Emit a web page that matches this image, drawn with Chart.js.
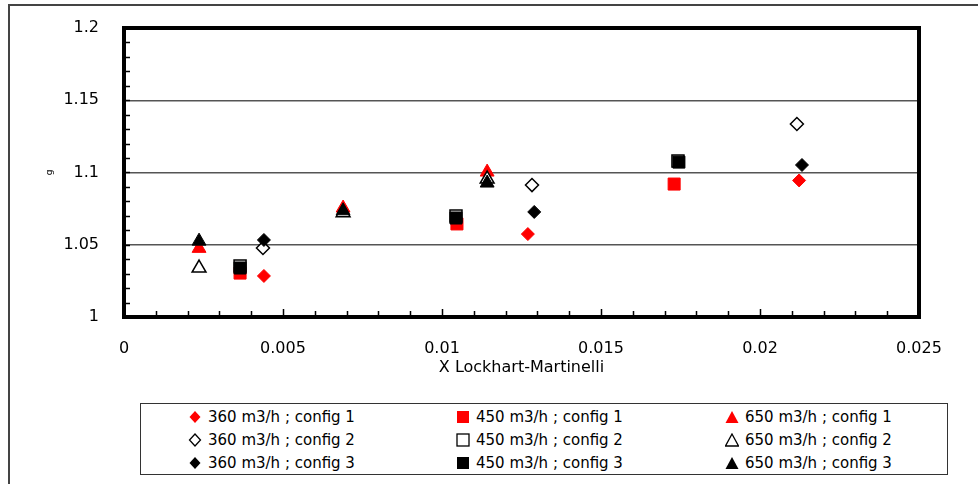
<!DOCTYPE html>
<html>
<head>
<meta charset="utf-8">
<script src="https://cdn.jsdelivr.net/npm/chart.js@4.4.0/dist/chart.umd.min.js"></script>
<style>
  body { margin: 0; background: #fff; font-family: "DejaVu Sans", sans-serif; overflow: hidden; }
  #wrap { position: relative; width: 978px; height: 484px; overflow: hidden; }
  #frame { position: absolute; left: 8px; top: 4px; width: 2000px; height: 2000px; border: 2px solid #444; box-sizing: border-box; }
  #c { position: absolute; left: 0; top: 0; }
  #legend { position: absolute; left: 140px; top: 403px; width: 808px; height: 72px; border: 1.5px solid #333; box-sizing: border-box; background: #fff; }
  .item { position: absolute; height: 20px; line-height: 20px; font-size: 15px; color: #000; white-space: nowrap; }
  .item svg { position: absolute; left: -20px; top: 3px; }
</style>
</head>
<body>
<div id="wrap">
  <div id="frame"></div>
  <canvas id="c" width="978" height="484"></canvas>
  <div id="legend"></div>
</div>
<script>
// x = Lockhart-Martinelli parameter, y = g
const x360 = [0.0044, 0.0127, 0.02123];
const g360c1 = [1.0284, 1.0574, 1.0945];
const x360c2 = [0.00437, 0.01283, 0.02116];
const g360c2 = [1.0478, 1.0913, 1.1336];
const x360c3 = [0.0044, 0.0129, 0.02132];
const g360c3 = [1.0533, 1.0727, 1.1052];

const x450 = [0.00365, 0.01047, 0.0173];
const g450c1 = [1.0304, 1.0644, 1.092];
const x450c2 = [0.00365, 0.01044, 0.01742];
const g450c2 = [1.0353, 1.0699, 1.108];
const x450c3 = [0.00365, 0.01044, 0.01745];
const g450c3 = [1.0339, 1.0685, 1.1072];

const x650 = [0.00236, 0.00689, 0.01142];
const g650c1 = [1.0475, 1.0754, 1.1003];
const g650c2 = [1.0339, 1.0722, 1.0955];
const g650c3 = [1.0525, 1.0735, 1.0927];

const xTicks = [0, 0.005, 0.01, 0.015, 0.02, 0.025];
const yTicks = [1, 1.05, 1.1, 1.15, 1.2];

const toPts = (xs, ys) => xs.map((x, i) => ({x: x, y: ys[i]}));

const series = [
  {label: "360 m3/h ; config 1", data: toPts(x360, g360c1), shape: "rectRot", fill: "#ff0000", line: "#ff0000", cfg: 1},
  {label: "450 m3/h ; config 1", data: toPts(x450, g450c1), shape: "rect", fill: "#ff0000", line: "#ff0000", cfg: 1},
  {label: "650 m3/h ; config 1", data: toPts(x650, g650c1), shape: "triangle", fill: "#ff0000", line: "#ff0000", cfg: 1},
  {label: "360 m3/h ; config 2", data: toPts(x360c2, g360c2), shape: "rectRot", fill: "#ffffff", line: "#000000", cfg: 2},
  {label: "450 m3/h ; config 2", data: toPts(x450c2, g450c2), shape: "rect", fill: "#ffffff", line: "#000000", cfg: 2},
  {label: "650 m3/h ; config 2", data: toPts(x650, g650c2), shape: "triangle", fill: "#ffffff", line: "#000000", cfg: 2},
  {label: "360 m3/h ; config 3", data: toPts(x360c3, g360c3), shape: "rectRot", fill: "#000000", line: "#000000", cfg: 3},
  {label: "450 m3/h ; config 3", data: toPts(x450c3, g450c3), shape: "rect", fill: "#000000", line: "#000000", cfg: 3},
  {label: "650 m3/h ; config 3", data: toPts(x650, g650c3), shape: "triangle", fill: "#000000", line: "#000000", cfg: 3}
];

const radius = {rectRot: 6.5, rect: 8.5, triangle: 8};

const near = (v, list) => list.some(t => Math.abs(t - v) < 1e-9);

// frame of the plot area + inward tick marks
const framePlugin = {
  id: "framePlugin",
  afterDraw(chart) {
    const ctx = chart.ctx;
    const a = chart.chartArea;
    const xs = chart.scales.x, ys = chart.scales.y;
    ctx.save();
    ctx.strokeStyle = "#000";
    ctx.lineWidth = 1.5;
    ctx.beginPath();
    xs.ticks.forEach(t => {
      const px = Math.round(xs.getPixelForValue(t.value)) + 0.5;
      const len = near(t.value, xTicks) ? 8 : 6;
      ctx.moveTo(px, a.bottom);
      ctx.lineTo(px, a.bottom - len);
    });
    ys.ticks.forEach(t => {
      const py = Math.round(ys.getPixelForValue(t.value)) + 0.5;
      ctx.moveTo(a.left, py);
      ctx.lineTo(a.left + 6, py);
    });
    ctx.stroke();
    ctx.lineWidth = 4;
    ctx.strokeRect(a.left, a.top, a.right - a.left, a.bottom - a.top);
    ctx.restore();
  }
};

Chart.defaults.font.family = "DejaVu Sans";
Chart.defaults.color = "#000";

new Chart(document.getElementById("c"), {
  type: "scatter",
  data: {
    datasets: series.map(s => ({
      label: s.label,
      data: s.data,
      pointStyle: s.shape,
      pointRadius: radius[s.shape],
      pointHoverRadius: radius[s.shape],
      backgroundColor: s.fill,
      borderColor: s.line,
      pointBorderWidth: s.cfg === 2 ? 1.5 : 1,
      order: 3 - s.cfg
    }))
  },
  options: {
    responsive: false,
    animation: false,
    layout: {padding: {left: 0, top: 28, right: 59, bottom: 107}},
    plugins: {legend: {display: false}, tooltip: {enabled: false}},
    scales: {
      x: {
        type: "linear",
        min: 0,
        max: 0.025,
        afterFit: s => { s.height = 60; s.paddingLeft = 0; s.paddingRight = 0; },
        border: {display: false},
        grid: {display: false, drawTicks: false},
        ticks: {
          stepSize: 0.001,
          autoSkip: false,
          maxRotation: 0,
          padding: 22,
          font: {size: 16},
          callback: v => near(v, xTicks) ? String(+v.toFixed(3)) : ""
        },
        title: {display: true, text: "X Lockhart-Martinelli", font: {size: 16}, padding: {top: 0, bottom: 0}}
      },
      y: {
        type: "linear",
        min: 1,
        max: 1.2,
        afterFit: s => { s.width = 124; s.paddingTop = 0; s.paddingBottom = 0; },
        border: {display: false},
        grid: {
          drawTicks: false,
          lineWidth: 1.5,
          color: c => (near(c.tick.value, yTicks) && c.tick.value > 1 && c.tick.value < 1.2) ? "#555" : "rgba(0,0,0,0)"
        },
        ticks: {
          stepSize: 0.01,
          autoSkip: false,
          padding: 25,
          font: {size: 16},
          callback: v => near(v, yTicks) ? String(+v.toFixed(2)) : ""
        },
        title: {display: true, text: "g", font: {size: 9}, padding: {top: 44, bottom: 0}}
      }
    }
  },
  plugins: [framePlugin]
});

// legend: 3 columns x 3 rows
const colX = [67, 335, 604];
const rowY = [3, 26, 49];
const svgFor = s => {
  const sw = s.cfg === 2 ? 1.3 : 0;
  let shape = "";
  if (s.shape === "rectRot") shape = `<polygon points="7,1 12.5,7 7,13 1.5,7" fill="${s.fill}" stroke="${s.line}" stroke-width="${sw}"/>`;
  if (s.shape === "rect") shape = `<rect x="1" y="1" width="12" height="12" fill="${s.fill}" stroke="${s.line}" stroke-width="${sw}"/>`;
  if (s.shape === "triangle") shape = `<polygon points="7,1 13.5,13 0.5,13" fill="${s.fill}" stroke="${s.line}" stroke-width="${sw}"/>`;
  return `<svg width="14" height="14" viewBox="0 0 14 14">${shape}</svg>`;
};
const legendEl = document.getElementById("legend");
series.forEach((s, i) => {
  const col = i % 3, row = Math.floor(i / 3);
  const d = document.createElement("div");
  d.className = "item";
  d.style.left = colX[col] + "px";
  d.style.top = rowY[row] + "px";
  d.innerHTML = svgFor(s) + s.label;
  legendEl.appendChild(d);
});
</script>
</body>
</html>
